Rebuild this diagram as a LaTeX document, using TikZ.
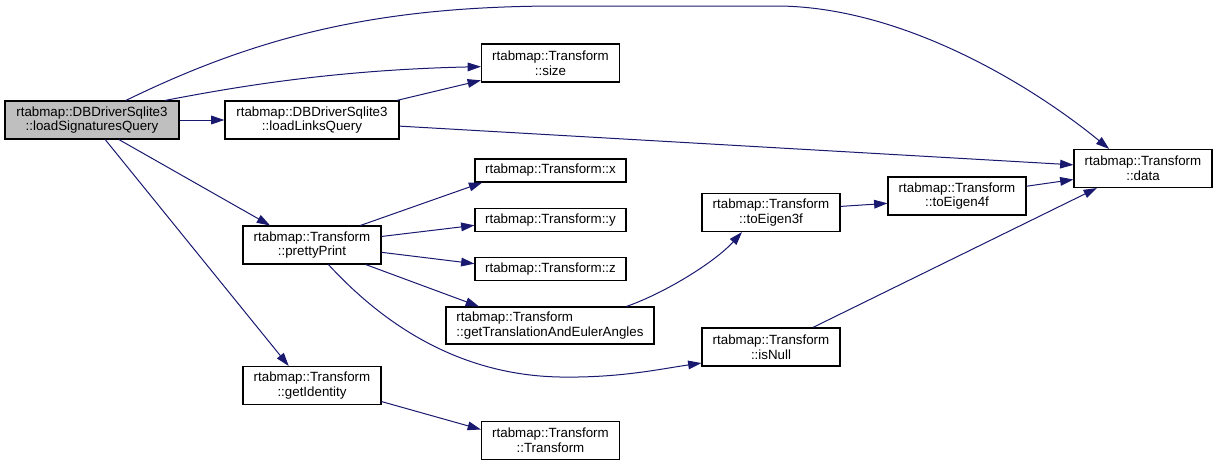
\documentclass[tikz,border=0pt]{standalone}
\usepackage{fontspec}
\setmainfont{Liberation Sans}
\usetikzlibrary{arrows.meta}
\definecolor{callblue}{HTML}{191970}
\definecolor{selgray}{HTML}{BFBFBF}

\begin{document}
\begin{tikzpicture}[x=0.75pt, y=-0.75pt,
    fn/.style={draw=black, fill=white, line width=0.8pt, inner sep=0pt,
      align=center, font=\fontsize{10}{11}\selectfont,
      minimum width=103.5pt, minimum height=28.5pt},
    fnwide/.style={fn, minimum width=130.5pt},
    fnflat/.style={fn, minimum width=113.25pt, minimum height=17.25pt},
    call/.style={draw=callblue, line width=0.75pt,
      -{Triangle[length=10pt, width=6.5pt, fill=callblue]}}]
  \useasboundingbox (0,0) rectangle (1218,465);
  % Caller.
  \node[fnwide, fill=selgray] (loadsig) at (92,120) {rtabmap::DBDriverSqlite3\\::loadSignaturesQuery};
  % Called functions.
  \node[fnwide] (loadlinks) at (312,120) {rtabmap::DBDriverSqlite3\\::loadLinksQuery};
  \node[fn] (size) at (550.5,63) {rtabmap::Transform\\::size};
  \node[fn] (data) at (1143,168.5) {rtabmap::Transform\\::data};
  \node[fn] (pretty) at (312,245) {rtabmap::Transform\\::prettyPrint};
  \node[fnflat] (tx) at (550.5,170.5) {rtabmap::Transform::x};
  \node[fnflat] (ty) at (550.5,220) {rtabmap::Transform::y};
  \node[fnflat] (tz) at (550.5,269) {rtabmap::Transform::z};
  \node[fn, align=left, minimum width=156pt, minimum height=27.75pt] (euler) at (550,325.5) {rtabmap::Transform\\::getTranslationAndEulerAngles};
  \node[fn] (eigen3) at (771,212.5) {rtabmap::Transform\\::toEigen3f};
  \node[fn] (eigen4) at (957,196) {rtabmap::Transform\\::toEigen4f};
  \node[fn] (isnull) at (771,347) {rtabmap::Transform\\::isNull};
  \node[fn] (ident) at (312,385.5) {rtabmap::Transform\\::getIdentity};
  \node[fn] (ctor) at (550.5,440.5) {rtabmap::Transform\\::Transform};
  % Calls from loadSignaturesQuery.
  \draw[call] (loadsig) -- (loadlinks);
  \draw[call] (loadsig.30) .. controls (260,35) and (380,6) .. (560,6)
    -- (780,6) .. controls (910,8) and (1040,92) .. (data.150);
  \draw[call] (loadsig.15) .. controls (230,88) and (330,70) .. (size.183);
  \draw[call] (loadsig.-36) -- (pretty.155);
  \draw[call] (loadsig.-56) -- (ident.140);
  % Calls from loadLinksQuery.
  \draw[call] (loadlinks.13) -- (size.194);
  \draw[call] (loadlinks.-4) -- (data.177);
  % Calls from prettyPrint.
  \draw[call] (pretty.22) -- (tx.190);
  \draw[call] (pretty.7) -- (ty.184);
  \draw[call] (pretty.-6) -- (tz.176);
  \draw[call] (pretty.-20) -- (euler.165);
  \draw[call] (pretty.-50) .. controls (375,315) and (450,375) .. (560,377)
    .. controls (620,378) and (660,369) .. (isnull.193);
  % The rest.
  \draw[call] (euler.14) .. controls (665,293) and (715,262) .. (eigen3.214);
  \draw[call] (eigen3.5) -- (eigen4.186);
  \draw[call] (eigen4.8) -- (data.189);
  \draw[call] (isnull.25) -- (data.203);
  \draw[call] (ident.-13) -- (ctor.171);
\end{tikzpicture}
\end{document}
